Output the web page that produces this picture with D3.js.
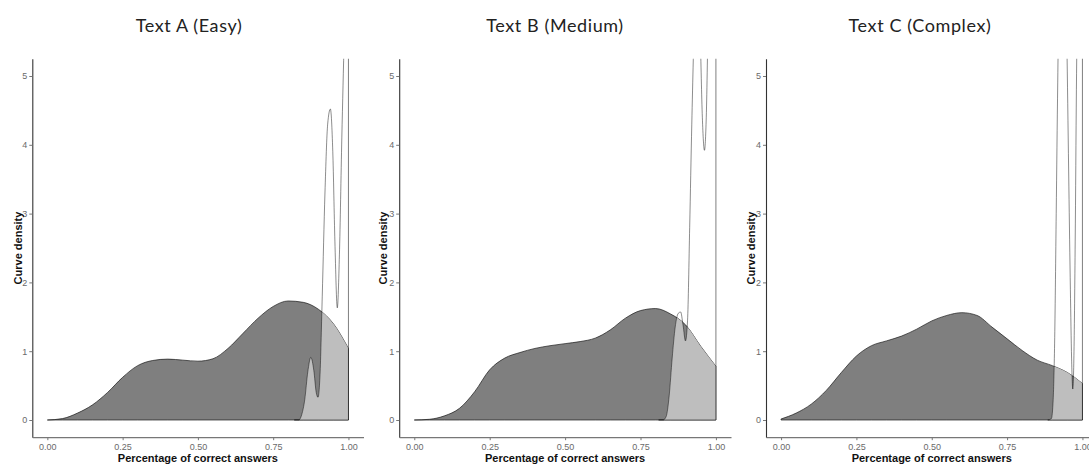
<!DOCTYPE html>
<html>
<head>
<meta charset="utf-8">
<script src="https://cdn.jsdelivr.net/npm/d3@7"></script>
<style>
  body { margin: 0; background: #fff; }
  svg { display: block; }
</style>
</head>
<body>
<div id="chart"></div>
<script>
// titles and ticks
const titles = ["Text A (Easy)", "Text B (Medium)", "Text C (Complex)"];
const xTicks = [0, 0.25, 0.5, 0.75, 1];
const yTicks = [0, 1, 2, 3, 4, 5];

// dark density, read on a 0.05 grid
const gridX = [0, 0.05, 0.1, 0.15, 0.2, 0.25, 0.3, 0.35, 0.4, 0.45, 0.5,
               0.55, 0.6, 0.65, 0.7, 0.75, 0.8, 0.85, 0.9, 0.95, 1];
const darkA = [0, 0.02, 0.1, 0.22, 0.40, 0.62, 0.79, 0.865, 0.885, 0.87, 0.855,
               0.89, 1.04, 1.26, 1.48, 1.65, 1.73, 1.71, 1.61, 1.40, 1.04];
const darkB = [0, 0.01, 0.06, 0.17, 0.41, 0.73, 0.90, 0.98, 1.04, 1.08, 1.11,
               1.14, 1.19, 1.31, 1.48, 1.59, 1.62, 1.54, 1.38, 1.07, 0.78];
const darkC = [0.015, 0.1, 0.23, 0.43, 0.69, 0.93, 1.08, 1.15, 1.22, 1.32, 1.44,
               1.52, 1.56, 1.52, 1.35, 1.18, 1.01, 0.87, 0.79, 0.69, 0.53];

// light density (peaks near 1, runs off the top)
const lightAx = [0.82, 0.835, 0.845, 0.855, 0.865, 0.875, 0.885, 0.893, 0.899, 0.906, 0.913,
                 0.922, 0.931, 0.94, 0.948, 0.955, 0.963, 0.97, 0.978, 0.986, 0.993, 1.0];
const lightAy = [0, 0, 0.08, 0.3, 0.7, 0.91, 0.72, 0.4, 0.33, 0.7, 1.8,
                 3.3, 4.3, 4.52, 3.9, 2.6, 1.63, 2.4, 4.1, 5.6, 7.0, 8.0];
const lightBx = [0.81, 0.825, 0.835, 0.845, 0.855, 0.865, 0.875, 0.883, 0.891, 0.899, 0.906,
                 0.913, 0.92, 0.93, 0.94, 0.948, 0.955, 0.962, 0.968, 0.975, 0.985, 1.0];
const lightBy = [0, 0, 0.05, 0.35, 0.9, 1.35, 1.55, 1.57, 1.38, 1.15, 1.45,
                 2.8, 4.3, 6.0, 6.8, 5.6, 4.4, 3.92, 4.4, 6.0, 7.5, 9];
const lightCx = [0.885, 0.897, 0.903, 0.908, 0.913, 0.918, 0.925, 0.935, 0.943, 0.949,
                 0.955, 0.96, 0.964, 0.968, 0.972, 0.976, 0.98, 0.988, 1.0];
const lightCy = [0, 0.02, 0.3, 1.2, 3.0, 4.9, 7.0, 8.0, 7.0, 5.3,
                 3.4, 1.9, 0.9, 0.45, 1.0, 2.6, 4.8, 7.5, 9];

const width = 1089, height = 466;
const panels = [
  {title: titles[0], dark: darkA, lx: lightAx, ly: lightAy, left: 32.3, right: 363.5, ylab: 18, tx: 189},
  {title: titles[1], dark: darkB, lx: lightBx, ly: lightBy, left: 399.2, right: 731, ylab: 383, tx: 555},
  {title: titles[2], dark: darkC, lx: lightCx, ly: lightCy, left: 766, right: 1097.5, ylab: 751, tx: 920}
];

const svg = d3.select("#chart").append("svg")
  .attr("width", width)
  .attr("height", height);
svg.append("rect").attr("width", width).attr("height", height).attr("fill", "#fff");
const defs = svg.append("defs");

const y = d3.scaleLinear().domain([-0.25, 5.25]).range([437.2, 58.8]);

panels.forEach(function(p, i) {
  const x = d3.scaleLinear().domain([-0.05, 1.05]).range([p.left, p.right]);
  const g = svg.append("g");

  const darkPts = gridX.map(function(v, j) { return [v, p.dark[j]]; });
  const lightPts = p.lx.map(function(v, j) { return [v, p.ly[j]]; });

  const area = d3.area()
    .x(function(d) { return x(d[0]); })
    .y0(y(0))
    .y1(function(d) { return y(d[1]); })
    .curve(d3.curveMonotoneX);
  const line = d3.line()
    .x(function(d) { return x(d[0]); })
    .y(function(d) { return y(d[1]); })
    .curve(d3.curveMonotoneX);

  defs.append("clipPath").attr("id", "panel" + i)
    .append("rect")
      .attr("x", p.left).attr("y", y(5.25))
      .attr("width", p.right - p.left).attr("height", y(-0.25) - y(5.25));
  defs.append("clipPath").attr("id", "dark" + i)
    .append("path").attr("d", area(darkPts));

  // dark density
  g.append("path")
    .attr("d", area(darkPts))
    .attr("fill", "#7f7f7f")
    .attr("stroke", "#1a1a1a")
    .attr("stroke-width", 0.7);

  // light density, only visible inside the dark one
  g.append("path")
    .attr("d", area(lightPts))
    .attr("fill", "#bebebe")
    .attr("clip-path", "url(#dark" + i + ")");

  // light density outline
  const lg = g.append("g").attr("clip-path", "url(#panel" + i + ")");
  lg.append("path")
    .attr("d", line(lightPts))
    .attr("fill", "none")
    .attr("stroke", "rgba(0,0,0,0.5)")
    .attr("stroke-width", 0.9);
  const last = p.lx[p.lx.length - 1];
  lg.append("path")
    .attr("d", d3.line().x(function(d) { return x(d[0]); }).y(function(d) { return y(d[1]); })
      ([[last, 5.3], [last, 0], [p.lx[0], 0]]))
    .attr("fill", "none")
    .attr("stroke", "rgba(0,0,0,0.5)")
    .attr("stroke-width", 1);

  // axes
  const ya = g.append("g")
    .attr("transform", "translate(" + p.left + ",0)")
    .call(d3.axisLeft(y).tickValues(yTicks).tickFormat(d3.format("d"))
      .tickSize(3).tickSizeOuter(0).tickPadding(2));
  ya.select(".domain").attr("stroke", "#333").attr("stroke-width", 1.1);
  ya.selectAll(".tick line").attr("stroke", "#777");
  ya.selectAll(".tick text").attr("fill", "#6a6a6a")
    .style("font-family", "'Liberation Sans', Arial, sans-serif").style("font-size", "9px");

  const xa = g.append("g")
    .attr("transform", "translate(0," + y(-0.25) + ")")
    .call(d3.axisBottom(x).tickValues(xTicks).tickFormat(d3.format(".2f"))
      .tickSize(3).tickSizeOuter(0).tickPadding(3));
  xa.select(".domain").attr("stroke", "#777").attr("stroke-width", 1.3);
  xa.selectAll(".tick line").attr("stroke", "#777");
  xa.selectAll(".tick text").attr("fill", "#6a6a6a")
    .style("font-family", "'Liberation Sans', Arial, sans-serif").style("font-size", "9px");

  // labels
  g.append("text")
    .attr("x", x(0.5)).attr("y", 462)
    .attr("text-anchor", "middle")
    .style("font-family", "'Liberation Sans', Arial, sans-serif")
    .style("font-size", "11px").style("font-weight", "bold")
    .attr("fill", "#111")
    .text("Percentage of correct answers");
  g.append("text")
    .attr("transform", "translate(" + (p.ylab + 4) + ",248) rotate(-90)")
    .attr("text-anchor", "middle")
    .style("font-family", "'Liberation Sans', Arial, sans-serif")
    .style("font-size", "11px").style("font-weight", "bold")
    .attr("fill", "#111")
    .text("Curve density");

  svg.append("text")
    .attr("x", p.tx).attr("y", 32)
    .attr("text-anchor", "middle")
    .style("font-family", "Lato, 'Open Sans', sans-serif")
    .style("font-size", "18px")
    .style("letter-spacing", "0.6px")
    .attr("fill", "#222")
    .text(p.title);
});
</script>
</body>
</html>
